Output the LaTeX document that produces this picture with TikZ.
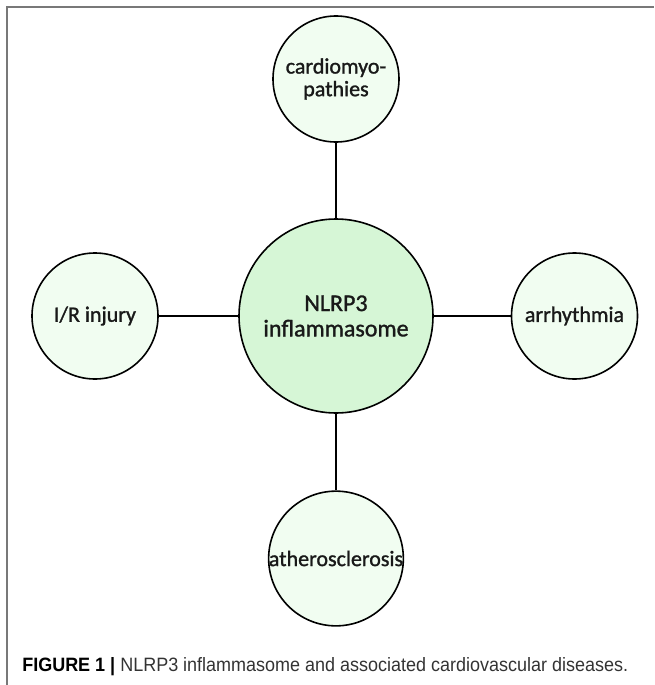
\documentclass[tikz,border=0pt]{standalone}
\usepackage{fontspec}
\usepackage{graphicx}
\usepackage{tikz}
\setmainfont{Carlito}
\newfontfamily\labelfont[FakeBold=1.3]{Carlito}
\newfontfamily\captionfont{Liberation Sans}
\definecolor{hubgreen}{RGB}{214, 246, 214}
\definecolor{leafgreen}{RGB}{241, 253, 241}
\definecolor{framegray}{RGB}{120, 120, 120}

\begin{document}
\begin{tikzpicture}[x=0.75pt, y=-0.75pt,
    disease/.style={circle, draw=black, line width=1.2pt, fill=leafgreen,
      minimum size=94.5pt, inner sep=0pt, align=center, text=black!90,
      font=\labelfont\fontsize{16.5}{17}\selectfont},
    hubnode/.style={disease, fill=hubgreen, minimum size=145.5pt,
      font=\labelfont\fontsize{18}{19}\selectfont},
    link/.style={draw=black, line width=1.2pt}]
    \useasboundingbox (0,0) rectangle (654,685);

    % Frame: gray rule on the left and on top
    \draw[framegray, line width=1.2pt] (7,685) -- (7,7) -- (654,7);

    % Central node
    \node[hubnode] (nlrp) at (336,316) {NLRP3\\inflammasome};

    % Diseases round the centre, each linked to it
    \foreach \name/\x/\y/\label in {
      cardio/336/79/{cardiomyo-\\pathies},
      injury/95/316/{I/R injury},
      arrhy/574.5/316/{arrhythmia},
      athero/336/558.5/{atherosclerosis}} {
        \node[disease] (\name) at (\x,\y) {\label};
        \draw[link] (nlrp) -- (\name);
      }

    % Caption below the picture
    \node[anchor=base west, inner sep=0pt, text=black!80,
          font=\captionfont\fontsize{14.5}{16}\selectfont] (caption) at (22,671)
      {\resizebox{454.5pt}{\height}{\textbf{\textcolor{black}{FIGURE 1 |}} NLRP3 inflammasome and associated cardiovascular diseases.}};
\end{tikzpicture}
\end{document}
